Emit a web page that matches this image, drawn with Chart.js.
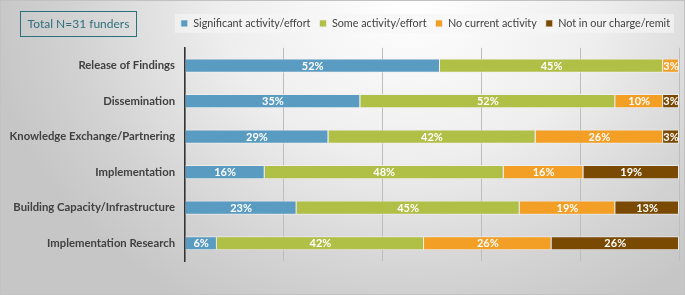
<!DOCTYPE html>
<html>
<head>
<meta charset="utf-8">
<script src="https://cdn.jsdelivr.net/npm/chart.js@4"></script>
<style>
  html, body { margin: 0; padding: 0; }
  #wrap {
    position: relative;
    width: 685px;
    height: 295px;
    box-sizing: border-box;
    border: 1px solid #c2c2c2;
    background: radial-gradient(ellipse 62% 120% at 60% 0%, #ffffff 0%, #eeeeee 45%, #d2d2d2 80%, #c6c6c6 100%);
    font-family: Lato, "Open Sans", sans-serif;
  }
  #nbox {
    position: absolute;
    left: 19px;
    top: 10px;
    width: 117px;
    height: 26px;
    box-sizing: border-box;
    border: 1.5px solid #2f6f7c;
    color: #2f6f7c;
    font-size: 12px;
    line-height: 23px;
    text-align: center;
  }
  canvas { position: absolute; left: 0; top: 0; }
</style>
</head>
<body>
<div id="wrap">
  <canvas id="activityChart" width="683" height="293"></canvas>
  <div id="nbox">Total N=31 funders</div>
</div>
<script>
// total number of funders surveyed
const totalFunders = 31;

const areas = [
    'Release of Findings',
    'Dissemination',
    'Knowledge Exchange/Partnering',
    'Implementation',
    'Building Capacity/Infrastructure',
    'Implementation Research'
];

// number of funders per answer (percent labels = count / 31)
const significant = [16, 11, 9, 5, 7, 2];
const someActivity = [14, 16, 13, 15, 14, 13];
const noCurrent = [1, 3, 8, 5, 6, 8];
const notInCharge = [0, 1, 1, 6, 4, 8];

const seriesNames = [
    'Significant activity/effort',
    'Some activity/effort',
    'No current activity',
    'Not in our charge/remit'
];
const seriesColors = ['#5a9bc1', '#b0bf46', '#f39f25', '#7b4a02'];

const toPct = arr => arr.map(v => v / totalFunders * 100);

const legendGap = {
    id: 'legendGap',
    beforeInit(chart) {
        const fit = chart.legend.fit;
        chart.legend.fit = function () {
            fit.bind(chart.legend)();
            this.height += 9;
        };
    }
};

// light band behind the legend entries
const legendBand = {
    id: 'legendBand',
    beforeDraw(chart) {
        const boxes = chart.legend.legendHitBoxes;
        if (!boxes || !boxes.length) return;
        const first = boxes[0];
        const last = boxes[boxes.length - 1];
        const c = chart.ctx;
        c.save();
        c.fillStyle = 'rgba(246,246,246,0.65)';
        c.fillRect(first.left - 6, first.top - 4, last.left + last.width - first.left + 10, first.height + 8);
        c.restore();
    }
};

// percent labels centred in each segment
const segmentLabels = {
    id: 'segmentLabels',
    afterDatasetsDraw(chart) {
        const c = chart.ctx;
        c.save();
        c.font = 'bold 11px Lato, "Open Sans", sans-serif';
        c.fillStyle = '#ffffff';
        c.textAlign = 'center';
        c.textBaseline = 'middle';
        chart.data.datasets.forEach((ds, i) => {
            const meta = chart.getDatasetMeta(i);
            meta.data.forEach((bar, j) => {
                const v = ds.data[j];
                if (!v) return;
                c.fillText(Math.round(v) + '%', (bar.x + bar.base) / 2, bar.y + 0.5);
            });
        });
        c.restore();
    }
};

const ctx = document.getElementById('activityChart').getContext('2d');

const chart = new Chart(ctx, {
    type: 'bar',
    data: {
        labels: areas,
        datasets: [significant, someActivity, noCurrent, notInCharge].map((counts, i) => ({
            label: seriesNames[i],
            data: toPct(counts),
            backgroundColor: seriesColors[i],
            borderColor: 'rgba(240,240,240,0.8)',
            borderWidth: 1,
            barPercentage: 0.4,
            categoryPercentage: 1
        }))
    },
    options: {
        indexAxis: 'y',
        responsive: false,
        animation: false,
        devicePixelRatio: 1,
        layout: { padding: { left: 0, right: 5, top: 8, bottom: 33 } },
        plugins: {
            legend: {
                position: 'top',
                align: 'end',
                labels: {
                    boxWidth: 7,
                    boxHeight: 7,
                    padding: 9,
                    color: '#404040',
                    font: { family: 'Lato, "Open Sans", sans-serif', size: 10.8 }
                }
            },
            tooltip: { enabled: false }
        },
        scales: {
            x: {
                stacked: true,
                min: 0,
                max: 100,
                ticks: { display: false, stepSize: 20 },
                grid: { color: '#bdbdbd', drawTicks: false },
                border: { display: false }
            },
            y: {
                stacked: true,
                afterFit: scale => { scale.width = 184; },
                ticks: {
                    padding: 10,
                    color: '#404040',
                    font: { family: 'Lato, "Open Sans", sans-serif', size: 11.3, weight: 'bold' }
                },
                grid: { display: false, drawTicks: false },
                border: { display: true, color: '#333333', width: 1.5 }
            }
        }
    },
    plugins: [legendGap, legendBand, segmentLabels]
});
</script>
</body>
</html>
